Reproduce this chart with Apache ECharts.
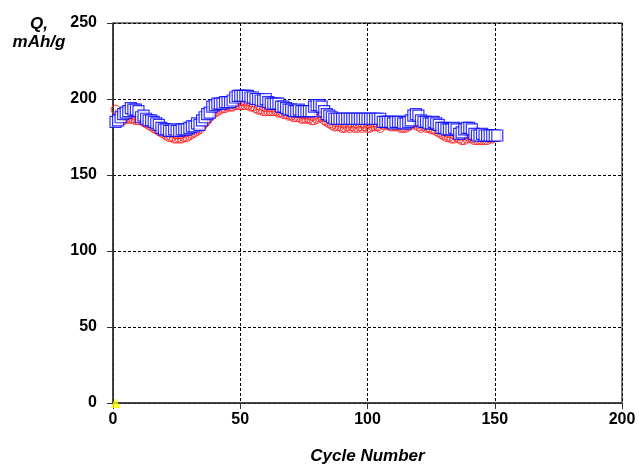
<!DOCTYPE html>
<html>
<head>
<meta charset="utf-8">
<script src="https://cdn.jsdelivr.net/npm/echarts@6/dist/echarts.min.js"></script>
<style>
  html, body { margin: 0; padding: 0; background: #fff; }
  #chart { width: 639px; height: 465px; }
</style>
</head>
<body>
<div id="chart"></div>
<script>
// discharge (blue squares) and charge (red circles) capacity, cycles 1..151
const blueQ = [
  185, 186, 188, 190, 191, 192, 194, 193, 193, 192,
  188, 189, 187, 186, 186, 185, 184, 183, 181, 180,
  180, 179, 179, 180, 179, 179, 180, 180, 180, 181,
  182, 182, 184, 183, 186, 188, 190, 191, 195, 196,
  197, 197, 197, 198, 198, 198, 199, 201, 202, 202,
  202, 202, 202, 201, 201, 200, 200, 199, 199, 200,
  198, 197, 197, 197, 197, 195, 195, 194, 193, 193,
  192, 192, 193, 192, 192, 192, 192, 192, 195, 196,
  196, 195, 192, 190, 189, 188, 187, 187, 187, 187,
  187, 187, 187, 187, 187, 187, 187, 187, 187, 187,
  187, 187, 187, 187, 187, 185, 185, 185, 185, 184,
  185, 185, 185, 184, 184, 185, 186, 189, 190, 189,
  186, 185, 185, 184, 184, 185, 184, 183, 181, 181,
  180, 180, 180, 181, 180, 177, 178, 180, 181, 181,
  180, 177, 176, 176, 177, 176, 176, 176, 176, 176,
  176
];
const redQ = [
  193, 188, 186, 186, 187, 187, 187, 187, 186, 186,
  186, 185, 184, 183, 182, 181, 180, 179, 178, 177,
  176, 175, 175, 174, 174, 174, 174, 175, 175, 176,
  177, 178, 179, 180, 182, 184, 186, 188, 190, 191,
  192, 193, 194, 194, 195, 195, 195, 196, 196, 196,
  196, 196, 196, 195, 195, 194, 193, 193, 192, 192,
  192, 192, 192, 192, 191, 191, 190, 190, 189, 189,
  188, 188, 188, 187, 187, 187, 187, 186, 186, 187,
  188, 188, 186, 185, 184, 183, 182, 182, 182, 181,
  181, 182, 181, 182, 181, 181, 182, 181, 182, 181,
  181, 182, 182, 182, 181, 183, 183, 183, 182, 182,
  182, 182, 181, 181, 181, 182, 183, 184, 183, 182,
  181, 182, 181, 181, 180, 180, 179, 178, 177, 176,
  175, 175, 174, 174, 175, 174, 173, 173, 174, 175,
  174, 173, 173, 173, 173, 173, 173, 174, 174, 175,
  175
];
const markerPoint = [[1, 0]];
const xTicks = [0, 50, 100, 150, 200];
const yTicks = [0, 50, 100, 150, 200, 250];

const toPairs = arr => arr.map((v, i) => [i + 1, v]);

const chart = echarts.init(document.getElementById('chart'));
const labelFont = { fontFamily: 'Liberation Sans', fontWeight: 'bold', fontSize: 16, color: '#000' };
const nameFont = { fontFamily: 'Liberation Sans', fontWeight: 'bold', fontStyle: 'italic', fontSize: 17, color: '#000' };
const gridLine = { show: true, lineStyle: { color: '#000', type: [3, 2], width: 1 } };

chart.setOption({
  animation: false,
  backgroundColor: '#fff',
  grid: {
    left: 113, right: 17, top: 23, bottom: 62, outerBoundsMode: 'none',
    show: true, borderColor: '#000', borderWidth: 1
  },
  graphic: [
    {
      type: 'text', x: 39, y: 15,
      style: {
        text: 'Q,\nmAh/g', align: 'center', verticalAlign: 'top', lineHeight: 18,
        fontFamily: 'Liberation Sans', fontWeight: 'bold', fontStyle: 'italic', fontSize: 17, fill: '#000'
      }
    }
  ],
  xAxis: {
    type: 'value', min: xTicks[0], max: xTicks[xTicks.length - 1], interval: 50,
    name: 'Cycle Number', nameLocation: 'middle', nameGap: 45,
    nameTextStyle: nameFont,
    axisLine: { lineStyle: { color: '#333', width: 1.5 } },
    axisTick: { show: true, length: 6, lineStyle: { color: '#333' } },
    axisLabel: Object.assign({ margin: 9 }, labelFont),
    splitLine: gridLine
  },
  yAxis: {
    type: 'value', min: yTicks[0], max: yTicks[yTicks.length - 1], interval: 50,
    axisLine: { show: true, lineStyle: { color: '#333', width: 1.5 } },
    axisTick: { show: true, length: 6, lineStyle: { color: '#333' } },
    axisLabel: Object.assign({ margin: 16 }, labelFont),
    splitLine: gridLine
  },
  series: [
    {
      type: 'line', data: toPairs(redQ),
      symbol: 'circle', symbolSize: 9, showAllSymbol: true,
      lineStyle: { color: '#ff0000', width: 1 },
      itemStyle: { color: 'rgba(255,255,255,0)', borderColor: '#ff3030', borderWidth: 1 },
      z: 2
    },
    {
      type: 'scatter', data: toPairs(blueQ),
      symbol: 'rect', symbolSize: 11,
      itemStyle: { color: '#fff', borderColor: '#0000ff', borderWidth: 1.2 },
      z: 3
    },
    {
      type: 'scatter', data: markerPoint,
      symbol: 'triangle', symbolSize: 10,
      itemStyle: { color: '#ffff00' },
      z: 4
    }
  ]
});
</script>
</body>
</html>
